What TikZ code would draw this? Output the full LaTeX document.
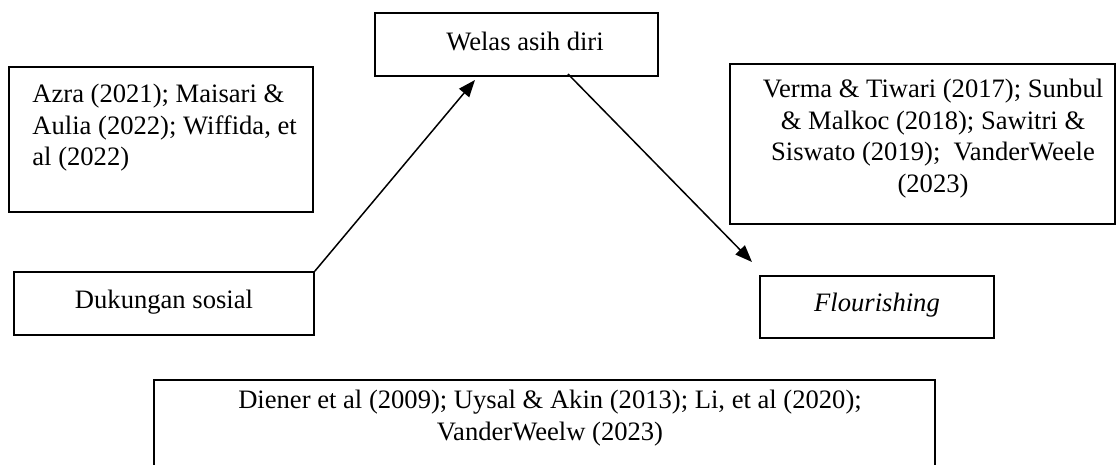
\documentclass[tikz,border=0pt]{standalone}
\usepackage{fontspec}
\setmainfont{Liberation Serif}
\usetikzlibrary{arrows.meta}
\tikzset{
  every node/.style={font=\fontsize{13.3pt}{15.7pt}\selectfont},
  box/.style={draw=black, line width=0.8pt, inner sep=0pt, rectangle},
  txt/.style={inner sep=0pt, align=center},
  conn/.style={line width=0.75pt, -{Triangle[length=8.5pt,width=6.5pt]}}
}
\begin{document}
\begin{tikzpicture}[x=0.5pt,y=-0.5pt]
\clip (0,0) rectangle (1120,465);
\fill[white] (0,0) rectangle (1120,465);
% boxes
\node[box, minimum width=141.5pt, minimum height=31.5pt] (welas) at (516.5,44.5) {};
\node[txt] (welastxt) at (525,41) {Welas asih diri};
\node[box, minimum width=152pt, minimum height=72.5pt] (azra) at (161,139.5) {};
\node[inner sep=0pt, anchor=north west, align=left] (azratxt) at (32,84) {Azra (2021); Maisari \&\\ Aulia (2022); Wiffida, et\\ al (2022)};
\node[box, minimum width=192.5pt, minimum height=80pt] (verma) at (922.5,144) {};
\node[txt, anchor=north] (vermatxt) at (933,79) {Verma \& Tiwari (2017); Sunbul\\ \& Malkoc (2018); Sawitri \&\\ Siswato (2019);\ \ VanderWeele\\ (2023)};
\node[box, minimum width=150pt, minimum height=31.5pt] (dukungan) at (164,303.5) {};
\node[txt] (dukungantxt) at (164,302) {Dukungan sosial};
\node[box, minimum width=117pt, minimum height=31pt] (flour) at (877,307) {};
\node[txt] (flourtxt) at (877,305) {\itshape Flourishing};
\node[box, minimum width=390.5pt, minimum height=60pt] (diener) at (544.5,440) {};
\node[txt, anchor=north] (dienertxt) at (550,390) {Diener et al (2009); Uysal \& Akin (2013); Li, et al (2020);\\ VanderWeelw (2023)};
% connectors
\coordinate (a1end) at (475,80);
\coordinate (a2start) at (568,74);
\coordinate (a2end) at (752,262);
\draw[conn] (dukungan.north east) -- (a1end);
\draw[conn] (a2start) -- (a2end);
\end{tikzpicture}
\end{document}
